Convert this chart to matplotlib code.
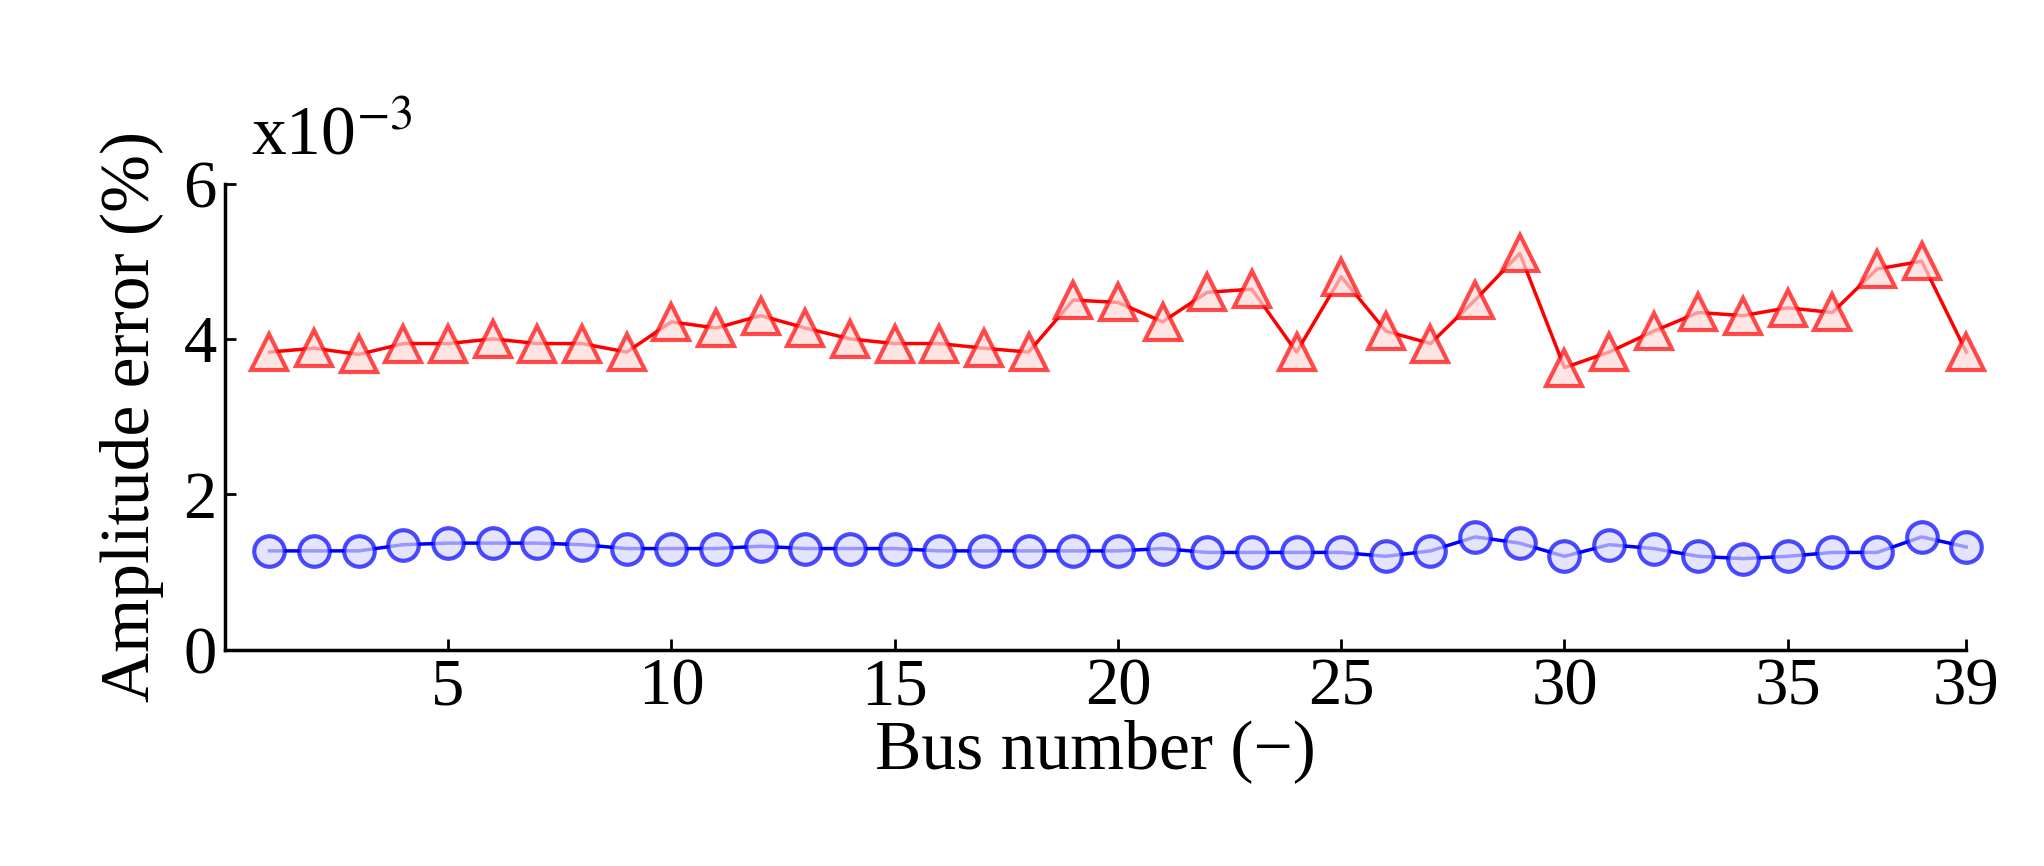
import matplotlib
matplotlib.use("Agg")
import matplotlib.pyplot as plt
import numpy as np

plt.rcParams['font.family'] = ['Liberation Serif', 'DejaVu Serif']
plt.rcParams['mathtext.fontset'] = 'stix'

bus = list(range(1, 40))
red = [3.83, 3.88, 3.8, 3.94, 3.94, 4.0, 3.94, 3.94, 3.83, 4.22, 4.14, 4.3, 4.14, 4.0, 3.94, 3.94,
       3.88, 3.83, 4.5, 4.47, 4.22, 4.6, 4.64, 3.83, 4.8, 4.1, 3.94, 4.5, 5.1, 3.63, 3.83, 4.1,
       4.34, 4.3, 4.4, 4.34, 4.9, 5.0, 3.83]
blue = [1.27, 1.27, 1.27, 1.35, 1.37, 1.37, 1.37, 1.35, 1.3, 1.3, 1.3, 1.33, 1.3, 1.3, 1.3, 1.27,
        1.27, 1.27, 1.27, 1.27, 1.3, 1.25, 1.25, 1.25, 1.25, 1.2, 1.27, 1.45, 1.37, 1.2, 1.35, 1.3,
        1.2, 1.17, 1.2, 1.25, 1.25, 1.45, 1.32]
xticks = [5, 10, 15, 20, 25, 30, 35, 39]
yticks = [0, 2, 4, 6]

fig = plt.figure(figsize=(20.44, 8.66), dpi=100)
ax = fig.add_axes([0.11, 0.25, 0.852, 0.538])
ax.plot(bus, red, color='red', marker='^', markersize=26, markerfacecolor=(1, 0.85, 0.85, 0.7),
        markeredgewidth=3, linewidth=2.5, clip_on=False)
ax.plot(bus, blue, color='blue', marker='o', markersize=22, markerfacecolor=(0.85, 0.85, 1, 0.7),
        markeredgewidth=3, linewidth=2.5, clip_on=False)
ax.set_xlim(0, 39)
ax.set_ylim(0, 6)
ax.set_xticks(xticks)
ax.set_yticks(yticks)
for s in ['top', 'right']:
    ax.spines[s].set_visible(False)
for s in ['left', 'bottom']:
    ax.spines[s].set_linewidth(2.5)
ax.tick_params(labelsize=48, direction='in', length=8, width=2, pad=6)
ax.set_xlabel('Bus number (−)', fontsize=50, labelpad=0)
ax.set_ylabel('Amplitude error (%)', fontsize=50, labelpad=14)
ax.text(0.015, 1.03, 'x10$^{-3}$', transform=ax.transAxes, fontsize=50, ha='left', va='bottom')
fig.savefig('out.png')
